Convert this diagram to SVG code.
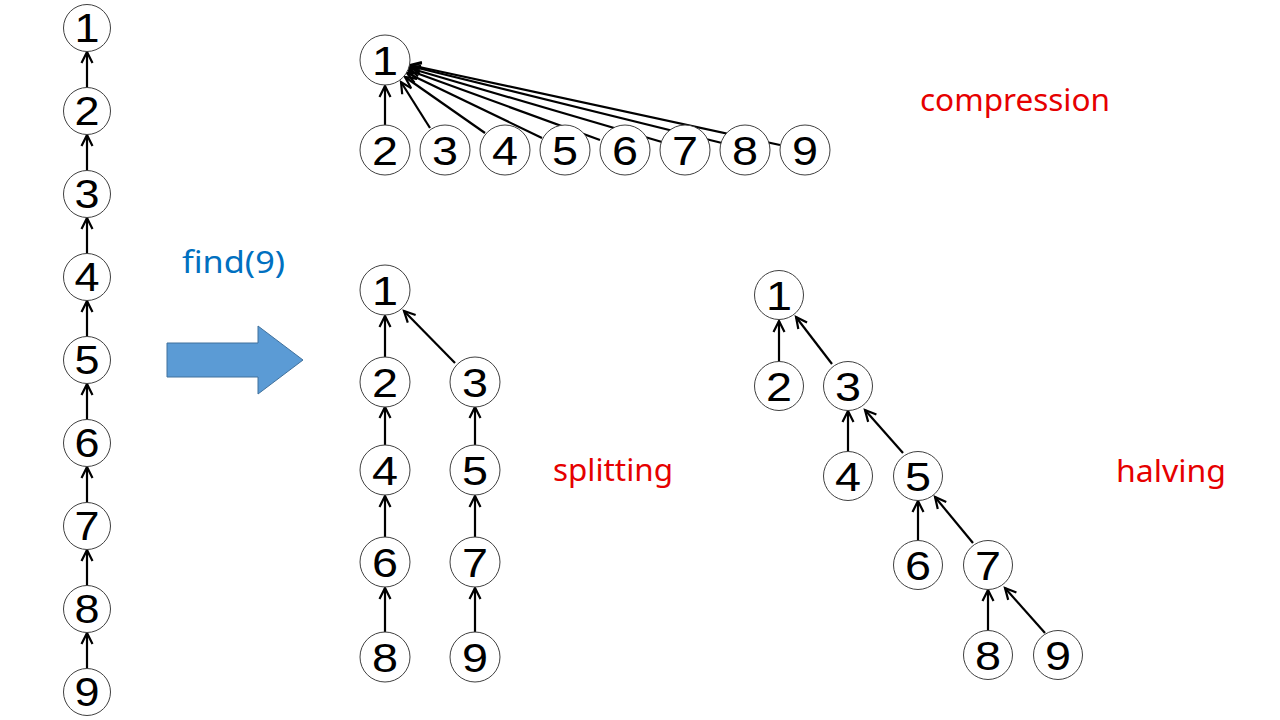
<svg xmlns="http://www.w3.org/2000/svg" width="1280" height="720" viewBox="0 0 1280 720">
<style>
.n circle{fill:#fff;stroke:#404040;stroke-width:1}
.n text{font-family:"Liberation Sans",Arial,sans-serif;font-size:40px;fill:#000;text-anchor:middle}
.e line{stroke:#000;stroke-width:2.2;marker-end:url(#ah)}
.lbl{font-family:"Noto Sans","Open Sans",sans-serif;font-size:31px}
</style>
<defs>
<marker id="ah" markerUnits="userSpaceOnUse" markerWidth="16" markerHeight="16" refX="0" refY="0" viewBox="-13 -8 16 16" orient="auto" overflow="visible">
<path d="M-11,-5.5 L0,0 L-11,5.5" fill="none" stroke="#000" stroke-width="2.2"/>
</marker>
</defs>
<rect width="1280" height="720" fill="#fff"/>

<g id="connectors" class="e">
<!-- left column -->
<line x1="87" y1="87.5" x2="87" y2="52"/>
<line x1="87" y1="170.5" x2="87" y2="135"/>
<line x1="87" y1="253.5" x2="87" y2="218"/>
<line x1="87" y1="336.5" x2="87" y2="301"/>
<line x1="87" y1="419.5" x2="87" y2="384"/>
<line x1="87" y1="502.5" x2="87" y2="467"/>
<line x1="87" y1="585.5" x2="87" y2="550"/>
<line x1="87" y1="668.5" x2="87" y2="633"/>
<!-- compression -->
<line x1="385" y1="125" x2="385" y2="86"/>
<line x1="430" y1="128" x2="401" y2="82"/>
<line x1="485" y1="133" x2="405" y2="77"/>
<line x1="542" y1="138" x2="407" y2="73"/>
<line x1="600" y1="140" x2="408" y2="70"/>
<line x1="662" y1="142" x2="409" y2="68"/>
<line x1="722" y1="143" x2="410" y2="66"/>
<line x1="780" y1="145" x2="410" y2="65"/>
<!-- splitting -->
<line x1="385" y1="357" x2="385" y2="316"/>
<line x1="385" y1="445" x2="385" y2="407"/>
<line x1="385" y1="537" x2="385" y2="496"/>
<line x1="385" y1="632" x2="385" y2="588"/>
<line x1="455" y1="363" x2="404" y2="311"/>
<line x1="475" y1="445" x2="475" y2="407"/>
<line x1="475" y1="537" x2="475" y2="496"/>
<line x1="475" y1="632" x2="475" y2="588"/>
<!-- halving -->
<line x1="779" y1="361" x2="779" y2="321"/>
<line x1="832" y1="364" x2="796" y2="317"/>
<line x1="848" y1="451" x2="848" y2="411"/>
<line x1="903" y1="453" x2="865" y2="410"/>
<line x1="918" y1="540" x2="918" y2="501"/>
<line x1="973" y1="543" x2="935" y2="497"/>
<line x1="988" y1="630" x2="988" y2="590"/>
<line x1="1045" y1="633" x2="1005" y2="588"/>
</g>

<!-- left column nodes -->
<g id="L1" class="n"><circle cx="87" cy="28" r="23.5"/><text x="87" y="42" textLength="25" lengthAdjust="spacingAndGlyphs">1</text></g>
<g id="L2" class="n"><circle cx="87" cy="111" r="23.5"/><text x="87" y="125" textLength="25" lengthAdjust="spacingAndGlyphs">2</text></g>
<g id="L3" class="n"><circle cx="87" cy="194" r="23.5"/><text x="87" y="208" textLength="25" lengthAdjust="spacingAndGlyphs">3</text></g>
<g id="L4" class="n"><circle cx="87" cy="277" r="23.5"/><text x="87" y="291" textLength="25" lengthAdjust="spacingAndGlyphs">4</text></g>
<g id="L5" class="n"><circle cx="87" cy="360" r="23.5"/><text x="87" y="374" textLength="25" lengthAdjust="spacingAndGlyphs">5</text></g>
<g id="L6" class="n"><circle cx="87" cy="443" r="23.5"/><text x="87" y="457" textLength="25" lengthAdjust="spacingAndGlyphs">6</text></g>
<g id="L7" class="n"><circle cx="87" cy="526" r="23.5"/><text x="87" y="540" textLength="25" lengthAdjust="spacingAndGlyphs">7</text></g>
<g id="L8" class="n"><circle cx="87" cy="609" r="23.5"/><text x="87" y="623" textLength="25" lengthAdjust="spacingAndGlyphs">8</text></g>
<g id="L9" class="n"><circle cx="87" cy="692" r="23.5"/><text x="87" y="706" textLength="25" lengthAdjust="spacingAndGlyphs">9</text></g>

<!-- compression nodes -->
<g id="C1" class="n"><circle cx="385" cy="60" r="25"/><text x="385" y="74.5" textLength="26" lengthAdjust="spacingAndGlyphs">1</text></g>
<g id="C2" class="n"><circle cx="385" cy="150" r="25"/><text x="385" y="164.5" textLength="26" lengthAdjust="spacingAndGlyphs">2</text></g>
<g id="C3" class="n"><circle cx="445" cy="150" r="25"/><text x="445" y="164.5" textLength="26" lengthAdjust="spacingAndGlyphs">3</text></g>
<g id="C4" class="n"><circle cx="505" cy="150" r="25"/><text x="505" y="164.5" textLength="26" lengthAdjust="spacingAndGlyphs">4</text></g>
<g id="C5" class="n"><circle cx="565" cy="150" r="25"/><text x="565" y="164.5" textLength="26" lengthAdjust="spacingAndGlyphs">5</text></g>
<g id="C6" class="n"><circle cx="625" cy="150" r="25"/><text x="625" y="164.5" textLength="26" lengthAdjust="spacingAndGlyphs">6</text></g>
<g id="C7" class="n"><circle cx="685" cy="150" r="25"/><text x="685" y="164.5" textLength="26" lengthAdjust="spacingAndGlyphs">7</text></g>
<g id="C8" class="n"><circle cx="745" cy="150" r="25"/><text x="745" y="164.5" textLength="26" lengthAdjust="spacingAndGlyphs">8</text></g>
<g id="C9" class="n"><circle cx="805" cy="150" r="25"/><text x="805" y="164.5" textLength="26" lengthAdjust="spacingAndGlyphs">9</text></g>

<!-- splitting nodes -->
<g id="S1" class="n"><circle cx="385" cy="290" r="25"/><text x="385" y="304.5" textLength="26" lengthAdjust="spacingAndGlyphs">1</text></g>
<g id="S2" class="n"><circle cx="385" cy="382" r="25"/><text x="385" y="396.5" textLength="26" lengthAdjust="spacingAndGlyphs">2</text></g>
<g id="S3" class="n"><circle cx="475" cy="382" r="25"/><text x="475" y="396.5" textLength="26" lengthAdjust="spacingAndGlyphs">3</text></g>
<g id="S4" class="n"><circle cx="385" cy="470" r="25"/><text x="385" y="484.5" textLength="26" lengthAdjust="spacingAndGlyphs">4</text></g>
<g id="S5" class="n"><circle cx="475" cy="470" r="25"/><text x="475" y="484.5" textLength="26" lengthAdjust="spacingAndGlyphs">5</text></g>
<g id="S6" class="n"><circle cx="385" cy="562" r="25"/><text x="385" y="576.5" textLength="26" lengthAdjust="spacingAndGlyphs">6</text></g>
<g id="S7" class="n"><circle cx="475" cy="562" r="25"/><text x="475" y="576.5" textLength="26" lengthAdjust="spacingAndGlyphs">7</text></g>
<g id="S8" class="n"><circle cx="385" cy="657" r="25"/><text x="385" y="671.5" textLength="26" lengthAdjust="spacingAndGlyphs">8</text></g>
<g id="S9" class="n"><circle cx="475" cy="657" r="25"/><text x="475" y="671.5" textLength="26" lengthAdjust="spacingAndGlyphs">9</text></g>

<!-- halving nodes -->
<g id="H1" class="n"><circle cx="779" cy="295" r="24.5"/><text x="779" y="309.5" textLength="26" lengthAdjust="spacingAndGlyphs">1</text></g>
<g id="H2" class="n"><circle cx="779" cy="386" r="24.5"/><text x="779" y="400.5" textLength="26" lengthAdjust="spacingAndGlyphs">2</text></g>
<g id="H3" class="n"><circle cx="848" cy="386" r="24.5"/><text x="848" y="400.5" textLength="26" lengthAdjust="spacingAndGlyphs">3</text></g>
<g id="H4" class="n"><circle cx="848" cy="476" r="24.5"/><text x="848" y="490.5" textLength="26" lengthAdjust="spacingAndGlyphs">4</text></g>
<g id="H5" class="n"><circle cx="918" cy="476" r="24.5"/><text x="918" y="490.5" textLength="26" lengthAdjust="spacingAndGlyphs">5</text></g>
<g id="H6" class="n"><circle cx="918" cy="565" r="24.5"/><text x="918" y="579.5" textLength="26" lengthAdjust="spacingAndGlyphs">6</text></g>
<g id="H7" class="n"><circle cx="988" cy="565" r="24.5"/><text x="988" y="579.5" textLength="26" lengthAdjust="spacingAndGlyphs">7</text></g>
<g id="H8" class="n"><circle cx="988" cy="655" r="24.5"/><text x="988" y="669.5" textLength="26" lengthAdjust="spacingAndGlyphs">8</text></g>
<g id="H9" class="n"><circle cx="1058" cy="655" r="24.5"/><text x="1058" y="669.5" textLength="26" lengthAdjust="spacingAndGlyphs">9</text></g>

<!-- big arrow -->
<g id="bigArrow"><polygon points="167,343 258,343 258,326 303,360 258,394 258,377 167,377" fill="#5B9BD5" stroke="#41719C" stroke-width="1"/></g>

<!-- labels -->
<g id="labels">
<text class="lbl" x="182" y="273" fill="#0070C0" textLength="103" lengthAdjust="spacingAndGlyphs">find(9)</text>
<text class="lbl" x="920" y="111" fill="#E60000" textLength="190" lengthAdjust="spacingAndGlyphs">compression</text>
<text class="lbl" x="553" y="481" fill="#E60000" textLength="120" lengthAdjust="spacingAndGlyphs">splitting</text>
<text class="lbl" x="1116" y="482" fill="#E60000" textLength="110" lengthAdjust="spacingAndGlyphs">halving</text>
</g>
</svg>
